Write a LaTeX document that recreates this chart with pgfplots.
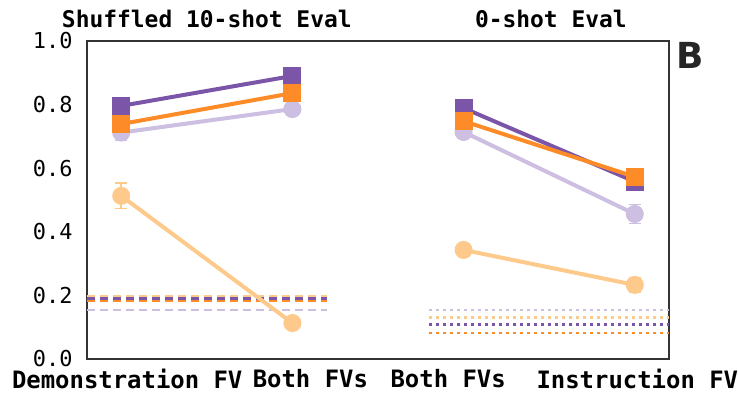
\documentclass[border=0pt]{standalone}
\usepackage{fontspec}
\setmainfont{DejaVu Sans Mono}
\newfontfamily\sansb{DejaVu Sans}
\usepackage{pgfplots}
\pgfplotsset{compat=1.18}
\definecolor{dpur}{HTML}{7B55A8}
\definecolor{org}{HTML}{FD8C28}
\definecolor{lpur}{HTML}{CDBFE1}
\definecolor{lorg}{HTML}{FDCA8C}
\begin{document}
\begin{tikzpicture}
\useasboundingbox (-87bp,-40bp) rectangle (651bp,359bp);
\begin{axis}[
 at={(0,0)}, anchor=south west,
 scale only axis, width=582bp, height=318bp,
 xmin=-0.2, xmax=3.2, ymin=0, ymax=1,
 ytick={0,0.2,0.4,0.6,0.8,1.0},
 /pgf/number format/assume math mode=true,
 yticklabel style={/pgf/number format/fixed,/pgf/number format/fixed zerofill,/pgf/number format/precision=1, font=\fontsize{22}{22}\selectfont, xshift=-11bp},
 xtick={0.035,1.105,1.91,3.015},
 xticklabels={Demonstration FV, Both FVs, Both FVs, Instruction FV},
 xticklabel style={font=\fontsize{24}{24}\selectfont\bfseries, yshift=-7bp},
 major tick length=0pt,
 axis line style={draw=black!80, line width=1.3bp},
 clip=false,
 every axis plot/.append style={line width=4bp},
 error bars/error bar style={line width=1.5bp},
 error bars/error mark options={rotate=90, mark size=6bp, line width=1.5bp},
]
% baselines
\addplot[lorg, line width=2.5bp, dash pattern=on 8bp off 5bp] coordinates {(-0.2,0.198) (1.2,0.198)};
\addplot[lpur, line width=2.5bp, dash pattern=on 8bp off 5bp] coordinates {(-0.2,0.154) (1.2,0.154)};
\addplot[org, line width=2.5bp, dash pattern=on 8bp off 5bp] coordinates {(-0.2,0.182) (1.2,0.182)};
\addplot[dpur, line width=2.5bp, dash pattern=on 8bp off 5bp] coordinates {(-0.2,0.190) (1.2,0.190)};
\addplot[lpur, line width=2.5bp, dash pattern=on 2.5bp off 4.5bp] coordinates {(1.8,0.154) (3.2,0.154)};
\addplot[lorg, line width=2.5bp, dash pattern=on 2.5bp off 4.5bp] coordinates {(1.8,0.131) (3.2,0.131)};
\addplot[dpur, line width=2.5bp, dash pattern=on 2.5bp off 4.5bp] coordinates {(1.8,0.109) (3.2,0.109)};
\addplot[org, line width=2.5bp, dash pattern=on 2.5bp off 4.5bp] coordinates {(1.8,0.081) (3.2,0.081)};
% light orange
\addplot[lorg, mark=*, mark size=7bp, error bars/.cd, y dir=both, y explicit] coordinates {(0,0.513) +- (0,0.04) (1,0.113) +- (0,0.01)};
\addplot[lorg, mark=*, mark size=7bp, error bars/.cd, y dir=both, y explicit] coordinates {(2,0.343) +- (0,0.02) (3,0.233) +- (0,0.022)};
% light purple
\addplot[lpur, mark=*, mark size=7bp, error bars/.cd, y dir=both, y explicit] coordinates {(0,0.712) +- (0,0.025) (1,0.786) +- (0,0.012)};
\addplot[lpur, mark=*, mark size=7bp, error bars/.cd, y dir=both, y explicit] coordinates {(2,0.714) +- (0,0.018) (3,0.456) +- (0,0.03)};
% dark purple
\addplot[dpur, mark=square*, mark size=7bp, error bars/.cd, y dir=both, y explicit] coordinates {(0,0.796) +- (0,0.022) (1,0.89) +- (0,0.01)};
\addplot[dpur, mark=square*, mark size=7bp, error bars/.cd, y dir=both, y explicit] coordinates {(2,0.789) +- (0,0.015) (3,0.558) +- (0,0.025)};
% orange
\addplot[org, mark=square*, mark size=7bp, error bars/.cd, y dir=both, y explicit] coordinates {(0,0.739) +- (0,0.022) (1,0.836) +- (0,0.01)};
\addplot[org, mark=square*, mark size=7bp, error bars/.cd, y dir=both, y explicit] coordinates {(2,0.748) +- (0,0.018) (3,0.573) +- (0,0.025)};
% titles
\node[font=\fontsize{23}{23}\selectfont\bfseries, anchor=base] at (axis cs:0.5,1) [yshift=13bp] {Shuffled 10-shot Eval};
\node[font=\fontsize{23}{23}\selectfont\bfseries, anchor=base] at (axis cs:2.51,1) [yshift=13bp] {0-shot Eval};
\node[font=\fontsize{36}{36}\sansb\bfseries, anchor=north west, inner sep=0pt, text=black!85] at (rel axis cs:1,1) [xshift=7bp, yshift=-1bp] {B};
\end{axis}
\end{tikzpicture}
\end{document}
